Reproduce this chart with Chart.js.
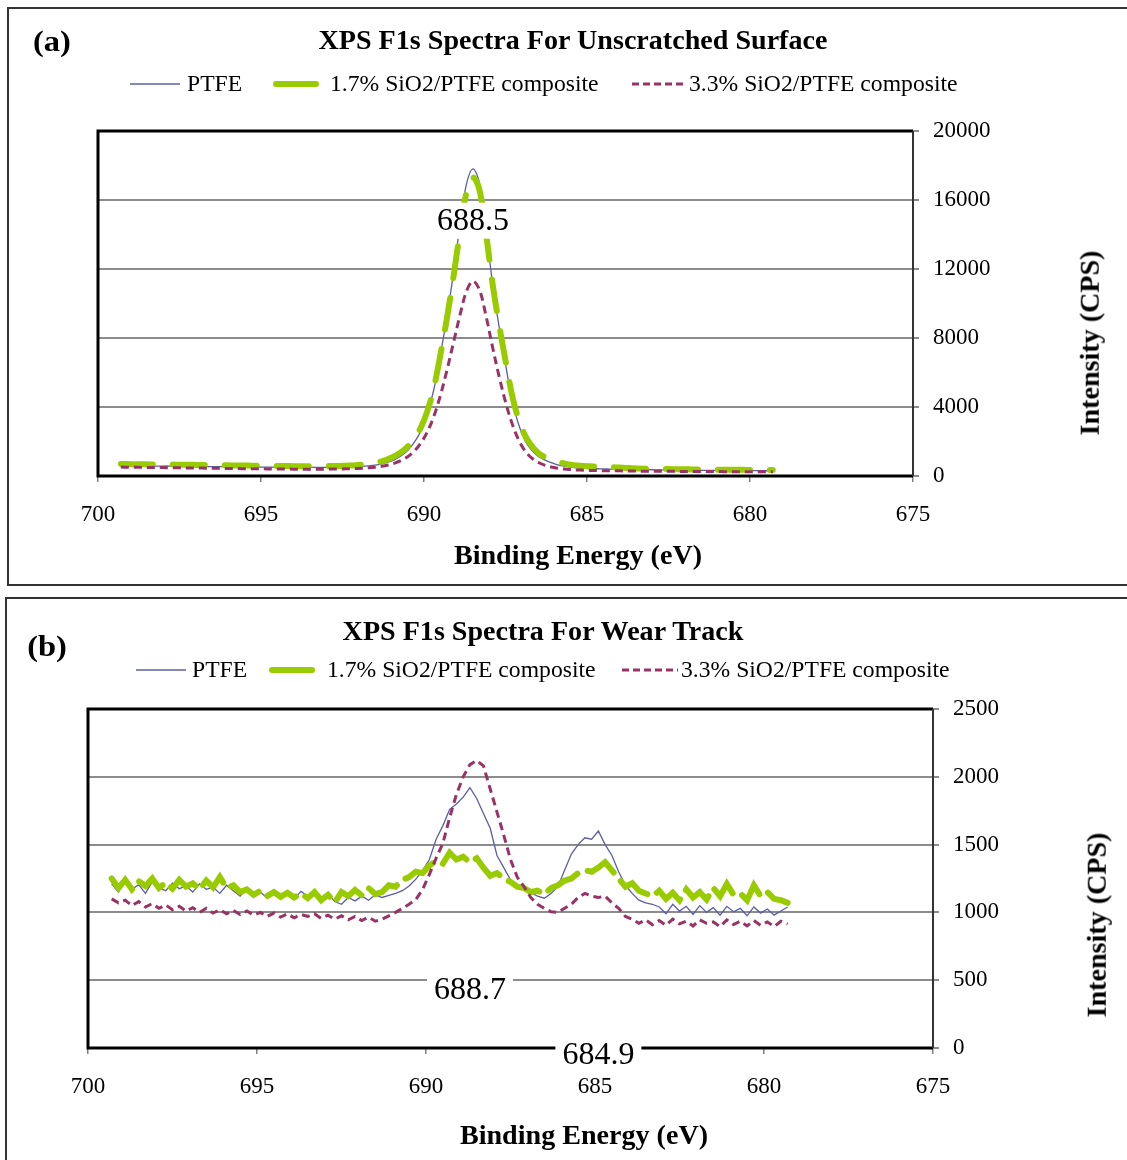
<!DOCTYPE html>
<html>
<head>
<meta charset="utf-8">
<title>XPS F1s Spectra</title>
<script src="https://cdn.jsdelivr.net/npm/chart.js@4.4.0/dist/chart.umd.min.js"></script>
<style>
  html, body { margin: 0; padding: 0; background: #fff; }
  body { width: 1127px; height: 1160px; position: relative; overflow: hidden;
         font-family: 'Liberation Serif', 'Times New Roman', serif; color: #000; }
  .panel { position: absolute; border: 2px solid #333; box-sizing: border-box; }
  canvas { position: absolute; left: 0; }
  .t { position: absolute; white-space: nowrap; transform: translate(-50%, -50%) scaleX(1.06); line-height: 1; }
  .b { font-weight: bold; }
  .title { font-size: 26.5px; }
  .tag { font-size: 29px; transform: translate(-50%, -50%) scaleX(1.12); }
  .axt { font-size: 26.5px; }
  .rot { transform: translate(-50%, -50%) rotate(-90deg) scaleX(1.06); }
  .leg { position: absolute; font-size: 22.3px; line-height: 1; white-space: nowrap;
         transform: translateY(-50%) scaleX(1.06); transform-origin: left center; }
  .key { position: absolute; transform: translateY(-50%); }
</style>
</head>
<body>

<div class="panel" style="left:7px; top:7px; width:1140px; height:579px;"></div>
<div class="panel" style="left:5px; top:597px; width:1140px; height:600px;"></div>

<canvas id="chartA" width="1127" height="590" style="top:0;"></canvas>
<canvas id="chartB" width="1127" height="570" style="top:590px;"></canvas>

<!-- panel (a) text -->
<div class="t b tag" style="left:52px; top:41px;">(a)</div>
<div class="t b title" style="left:573px; top:40px;">XPS F1s Spectra For Unscratched Surface</div>
<svg class="key" style="left:130px; top:84px;" width="50" height="10"><line x1="0" y1="5" x2="50" y2="5" stroke="#5B5EA6" stroke-width="1.5"/></svg>
<div class="leg" style="left:187px; top:84px;">PTFE</div>
<svg class="key" style="left:272px; top:84px;" width="48" height="10"><line x1="4" y1="5" x2="44" y2="5" stroke="#99CC00" stroke-width="6" stroke-linecap="round"/></svg>
<div class="leg" style="left:330px; top:84px;">1.7% SiO2/PTFE composite</div>
<svg class="key" style="left:632px; top:84px;" width="54" height="10"><line x1="0" y1="5" x2="54" y2="5" stroke="#993366" stroke-width="3" stroke-dasharray="7,4"/></svg>
<div class="leg" style="left:689px; top:84px;">3.3% SiO2/PTFE composite</div>
<div class="t b axt" style="left:578px; top:555px;">Binding Energy (eV)</div>
<div class="t b axt rot" style="left:1090px; top:343px;">Intensity (CPS)</div>

<!-- panel (b) text -->
<div class="t b tag" style="left:47px; top:646px;">(b)</div>
<div class="t b title" style="left:543px; top:631px;">XPS F1s Spectra For Wear Track</div>
<svg class="key" style="left:136px; top:670px;" width="50" height="10"><line x1="0" y1="5" x2="50" y2="5" stroke="#5B5EA6" stroke-width="1.5"/></svg>
<div class="leg" style="left:192px; top:670px;">PTFE</div>
<svg class="key" style="left:268px; top:670px;" width="48" height="10"><line x1="4" y1="5" x2="44" y2="5" stroke="#99CC00" stroke-width="6" stroke-linecap="round"/></svg>
<div class="leg" style="left:327px; top:670px;">1.7% SiO2/PTFE composite</div>
<svg class="key" style="left:622px; top:670px;" width="56" height="10"><line x1="0" y1="5" x2="56" y2="5" stroke="#993366" stroke-width="3" stroke-dasharray="7,4"/></svg>
<div class="leg" style="left:681px; top:670px;">3.3% SiO2/PTFE composite</div>
<div class="t b axt" style="left:584px; top:1135px;">Binding Energy (eV)</div>
<div class="t b axt rot" style="left:1097px; top:925px;">Intensity (CPS)</div>

<script>
// binding energy grid (eV), shared by both scans
const ENERGY = [
  699.3, 699.1, 698.9, 698.7, 698.5, 698.3, 698.1, 697.9, 697.7, 697.5,
  697.3, 697.1, 696.9, 696.7, 696.5, 696.3, 696.1, 695.9, 695.7, 695.5,
  695.3, 695.1, 694.9, 694.7, 694.5, 694.3, 694.1, 693.9, 693.7, 693.5,
  693.3, 693.1, 692.9, 692.7, 692.5, 692.3, 692.1, 691.9, 691.7, 691.5,
  691.3, 691.1, 690.9, 690.7, 690.5, 690.3, 690.1, 689.9, 689.7, 689.5,
  689.3, 689.1, 688.9, 688.7, 688.5, 688.3, 688.1, 687.9, 687.7, 687.5,
  687.3, 687.1, 686.9, 686.7, 686.5, 686.3, 686.1, 685.9, 685.7, 685.5,
  685.3, 685.1, 684.9, 684.7, 684.5, 684.3, 684.1, 683.9, 683.7, 683.5,
  683.3, 683.1, 682.9, 682.7, 682.5, 682.3, 682.1, 681.9, 681.7, 681.5,
  681.3, 681.1, 680.9, 680.7, 680.5, 680.3, 680.1, 679.9, 679.7, 679.5,
  679.3
];

// (a) unscratched surface, counts per second
const PTFE_A = [
  605, 600, 590, 595, 585, 580, 575, 580, 570, 565,
  560, 560, 555, 550, 545, 545, 540, 535, 530, 530,
  525, 520, 520, 515, 510, 510, 505, 505, 500, 500,
  500, 505, 505, 510, 515, 525, 540, 560, 590, 630,
  700, 800, 950, 1180, 1480, 1950, 2600, 3600, 5000, 7000,
  9200, 11700, 14500, 16900, 17800, 17000, 14300, 11200, 8700, 6500,
  4400, 3000, 2050, 1500, 1150, 930, 780, 650, 570, 510,
  470, 450, 430, 420, 410, 400, 395, 390, 380, 375,
  370, 365, 360, 355, 350, 345, 340, 340, 335, 330,
  330, 325, 320, 320, 315, 315, 310, 310, 305, 305,
  300
];
const SIO2_17_A = [
  700, 690, 685, 680, 675, 670, 665, 665, 660, 655,
  650, 645, 640, 635, 630, 625, 620, 615, 610, 605,
  600, 595, 590, 585, 585, 580, 575, 570, 570, 565,
  565, 570, 575, 580, 590, 605, 625, 655, 700, 760,
  850, 980, 1150, 1380, 1700, 2150, 2800, 3750, 5100, 7000,
  9100, 11500, 14100, 16400, 17300, 16600, 14100, 11200, 8800, 6700,
  4700, 3300, 2350, 1750, 1350, 1100, 930, 820, 730, 660,
  610, 580, 560, 545, 530, 515, 500, 480, 460, 440,
  425, 415, 410, 405, 400, 395, 390, 385, 380, 375,
  370, 368, 365, 362, 360, 358, 355, 352, 350, 350,
  348
];
const SIO2_33_A = [
  515, 510, 505, 500, 495, 495, 490, 485, 480, 475,
  470, 465, 460, 455, 450, 445, 440, 435, 430, 425,
  420, 420, 415, 410, 405, 400, 400, 395, 395, 390,
  390, 395, 400, 405, 410, 420, 435, 450, 475, 510,
  560, 640, 750, 900, 1120, 1440, 1900, 2550, 3450, 4650,
  6100, 7700, 9300, 10700, 11300, 10800, 9300, 7500, 5800, 4300,
  3050, 2100, 1450, 1050, 800, 630, 520, 450, 400, 370,
  350, 335, 325, 315, 310, 305, 300, 295, 290, 285,
  280, 280, 275, 275, 270, 270, 265, 265, 260, 260,
  260, 255, 255, 250, 250, 250, 250, 245, 245, 245,
  245
];

// (b) wear track, counts per second
const PTFE_B = [
  1210, 1150, 1230, 1170, 1205, 1140, 1225, 1180, 1160, 1215,
  1175, 1195, 1150, 1210, 1170, 1185, 1140, 1200, 1160, 1120,
  1175, 1130, 1150, 1105, 1160, 1125, 1145, 1100, 1155, 1120,
  1135, 1095, 1140, 1080, 1060, 1110, 1085, 1120, 1090, 1130,
  1110, 1125, 1140, 1160, 1195, 1245, 1310, 1390, 1540, 1640,
  1760, 1800, 1850, 1920, 1840, 1730, 1620, 1420, 1330, 1240,
  1200, 1170, 1145, 1120, 1105, 1140, 1190, 1310, 1430, 1500,
  1550, 1540, 1600, 1500, 1420, 1300, 1200, 1140, 1090, 1070,
  1060, 1040, 990, 1060, 1010, 1045, 985, 1050, 1000, 1035,
  980, 1045, 1005, 1030, 975, 1040, 995, 1025, 980, 1010,
  1040
];
const SIO2_17_B = [
  1250, 1180, 1240, 1170, 1230, 1195, 1250, 1180, 1220, 1175,
  1240, 1190, 1215, 1170, 1235, 1185, 1260, 1180, 1200, 1150,
  1170, 1130, 1160, 1120, 1150, 1115, 1145, 1110, 1140, 1105,
  1150, 1090, 1130, 1075, 1150, 1120, 1165, 1125, 1180, 1135,
  1150, 1200, 1190, 1240, 1260, 1300, 1290, 1345, 1380, 1360,
  1440, 1390, 1410, 1370, 1400, 1330, 1270, 1290, 1250, 1225,
  1190, 1180, 1150, 1160, 1135, 1180, 1200, 1235, 1250, 1290,
  1310, 1300, 1330, 1370, 1310, 1250, 1190, 1215, 1160, 1140,
  1120, 1160, 1100, 1145, 1090, 1170, 1110, 1150, 1095, 1180,
  1120, 1210, 1130, 1140, 1090, 1200, 1120, 1150, 1100, 1090,
  1070
];
const SIO2_33_B = [
  1100, 1070, 1090, 1050, 1080, 1040, 1065, 1030, 1055, 1020,
  1045, 1010, 1035, 1000, 1030, 995, 1020, 990, 1015, 985,
  1010, 980, 1000, 970, 995, 965, 990, 960, 985, 970,
  990, 955, 980, 950, 975, 945, 970, 940, 965, 935,
  950, 975, 1000, 1030, 1060, 1095, 1170, 1280, 1400, 1510,
  1700, 1870, 2000, 2090, 2120, 2080, 1910, 1740, 1570, 1390,
  1260, 1190, 1110, 1060, 1030, 1005, 1000, 1030, 1060, 1110,
  1140, 1120, 1110, 1120, 1070, 1030, 970, 950, 920, 945,
  910, 940, 905, 950, 915, 935, 900, 945, 920, 930,
  895, 945, 910, 935, 900, 940, 905, 930, 895, 935,
  915
];

// peak positions marked on each panel (eV)
const PEAKS_A = [688.5];
const PEAKS_B = [688.7, 684.9];

const X_TICKS = { min: 675, max: 700, step: 5 };
const Y_TICKS_A = { min: 0, max: 20000, step: 4000 };
const Y_TICKS_B = { min: 0, max: 2500, step: 500 };

const PTFE_COLOR = '#5B5EA6';
const GREEN = '#99CC00';
const PLUM = '#993366';
const SERIF = "'Liberation Serif', 'Times New Roman', serif";

const toPoints = (vals) => ENERGY.map((e, i) => ({ x: e, y: vals[i] }));

// black frame around the plot area
const plotFrame = {
  id: 'plotFrame',
  beforeDatasetsDraw(chart) {
    const { ctx, chartArea: a } = chart;
    ctx.save();
    ctx.strokeStyle = '#000';
    ctx.lineWidth = 3;
    ctx.beginPath();
    ctx.moveTo(a.right, a.top);
    ctx.lineTo(a.left, a.top);
    ctx.lineTo(a.left, a.bottom);
    ctx.lineTo(a.right, a.bottom);
    ctx.stroke();
    ctx.strokeStyle = '#333';
    ctx.lineWidth = 2;
    ctx.beginPath();
    ctx.moveTo(a.right, a.top);
    ctx.lineTo(a.right, a.bottom);
    ctx.stroke();
    ctx.restore();
  }
};

// boxed text labels for peak energies
const peakLabels = {
  id: 'peakLabels',
  afterDatasetsDraw(chart, args, opts) {
    const { ctx, scales } = chart;
    ctx.save();
    ctx.font = '32px ' + SERIF;
    ctx.textAlign = 'center';
    ctx.textBaseline = 'middle';
    opts.items.forEach((item) => {
      const px = scales.x.getPixelForValue(item.value);
      const py = scales.y.getPixelForValue(item.at);
      const text = item.value.toFixed(1);
      const w = ctx.measureText(text).width + 14;
      ctx.fillStyle = '#fff';
      ctx.fillRect(px - w / 2, py - 18, w, 36);
      ctx.fillStyle = '#000';
      ctx.fillText(text, px, py + 1);
    });
    ctx.restore();
  }
};

function spectrumChart(id, series, yTicks, padding, labels, tension, greenDash) {
  const tickFont = { family: SERIF, size: 23 };
  return new Chart(document.getElementById(id), {
    type: 'line',
    data: {
      datasets: [
        {
          label: 'PTFE',
          data: toPoints(series[0]),
          borderColor: PTFE_COLOR,
          borderWidth: 1.3,
          pointRadius: 0,
          tension: tension,
          order: 3,
        },
        {
          label: '1.7% SiO2/PTFE composite',
          data: toPoints(series[1]),
          borderColor: GREEN,
          borderWidth: 6,
          borderDash: greenDash,
          borderCapStyle: 'round',
          pointRadius: 0,
          tension: tension,
          order: 2,
        },
        {
          label: '3.3% SiO2/PTFE composite',
          data: toPoints(series[2]),
          borderColor: PLUM,
          borderWidth: 3,
          borderDash: [8, 5],
          pointRadius: 0,
          tension: tension,
          order: 1,
        },
      ],
    },
    options: {
      responsive: false,
      animation: false,
      events: [],
      layout: { padding: padding },
      plugins: {
        legend: { display: false },
        title: { display: false },
        tooltip: { enabled: false },
        peakLabels: { items: labels },
      },
      scales: {
        x: {
          type: 'linear',
          reverse: true,
          min: X_TICKS.min,
          max: X_TICKS.max,
          ticks: {
            stepSize: X_TICKS.step,
            font: tickFont,
            color: '#000',
            padding: 19,
            maxRotation: 0,
            callback: (v) => String(v),
          },
          grid: { drawOnChartArea: false, tickLength: 6, color: '#808080', lineWidth: 1.5 },
          border: { display: false },
          afterFit: (s) => { s.height = 50; },
        },
        y: {
          position: 'right',
          min: yTicks.min,
          max: yTicks.max,
          ticks: {
            stepSize: yTicks.step,
            font: tickFont,
            color: '#000',
            padding: 14,
            callback: (v) => String(v),
          },
          grid: { color: '#8C8C8C', lineWidth: 2, tickLength: 6 },
          border: { display: false },
          afterFit: (s) => { s.width = 100; },
        },
      },
    },
    plugins: [plotFrame, peakLabels],
  });
}

spectrumChart('chartA', [PTFE_A, SIO2_17_A, SIO2_33_A], Y_TICKS_A,
  { left: 98, top: 131, right: 114, bottom: 64 },
  PEAKS_A.map((v) => ({ value: v, at: 14800 })), 0.35, [32, 20]);

spectrumChart('chartB', [PTFE_B, SIO2_17_B, SIO2_33_B], Y_TICKS_B,
  { left: 88, top: 119, right: 94, bottom: 62 },
  [{ value: PEAKS_B[0], at: 430 }, { value: PEAKS_B[1], at: -52 }], 0, [34, 11]);
</script>
</body>
</html>
